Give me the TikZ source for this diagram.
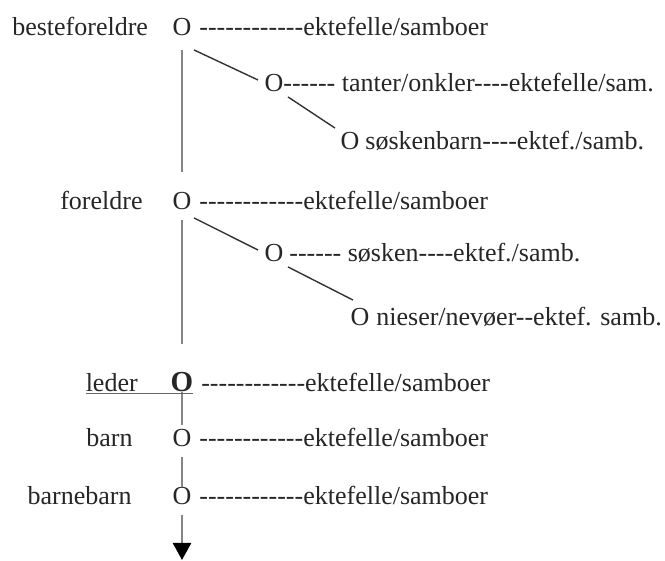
\documentclass[tikz,border=0pt]{standalone}
\usepackage{fontspec}
\setmainfont{Liberation Serif}
\usepackage{tikz}
\usetikzlibrary{positioning}
\usetikzlibrary{arrows.meta}
\newcommand{\strek}[1]{\foreach \n in {1,...,#1}{-{}}}
\tikzstyle{person}=[inner sep=0pt, outer sep=0pt]
\tikzstyle{rel}=[inner sep=0pt, outer sep=0pt]
\tikzstyle{stem}=[draw=black!48, line width=1.25pt]
\tikzstyle{gren}=[draw=black!80, line width=0.7pt]
\tikzstyle{arrow}=[-{Triangle[width=9pt, length=8.5pt, color=black]}]

\begin{document}
\begin{tikzpicture}[x=0.5pt, y=-0.5pt, every node/.style={font=\fontsize{13pt}{15pt}\selectfont, text=black!85}]
    \useasboundingbox (0,0) rectangle (665,561);

    % hovedlinja
    \node [person] (bf) at (182,27) {O};
    \node [person] (f) at (182,201) {O};
    \node [person, font=\fontsize{14.5pt}{16pt}\selectfont\bfseries] (leder) at (182,382) {O};
    \node [person] (barn) at (182,438) {O};
    \node [person] (bb) at (182,496) {O};
    \coordinate (slutt) at (182,560);

    \node [rel, base left=12.3pt of bf] (bf-lbl) {besteforeldre};
    \node [rel, base left=15pt of f] (f-lbl) {foreldre};
    \node [rel, base left=16.5pt of leder] (leder-lbl) {leder};
    \node [rel, base left=20pt of barn] (barn-lbl) {barn};
    \node [rel, base left=20.5pt of bb] (bb-lbl) {barnebarn};

    \foreach \p in {bf,f,leder,barn,bb}
    \node [rel, base right=4pt of \p] (\p-ekt) {\strek{12}ektefelle/samboer};

    % sidegrener
    \node [person] (tanter) at (274,83) {O};
    \node [rel, base right=0pt of tanter] (tanter-ekt) {\strek{6} tanter/onkler\strek{4}ektefelle/sam.};
    \node [person] (skb) at (350,141) {O};
    \node [rel, base right=3pt of skb] (skb-ekt) {søskenbarn\strek{4}ektef./samb.};

    \node [person] (sosken) at (274,253) {O};
    \node [rel, base right=3pt of sosken] (sosken-ekt) {\strek{6} søsken\strek{4}ektef./samb.};
    \node [person] (nieser) at (360,317) {O};
    \node [rel, base right=3.5pt of nieser] (nieser-ekt) {nieser/nevøer\strek{2}ektef. samb.};

    \draw [stem, shorten <=7.1pt, shorten >=10pt] (bf) -- (f);
    \draw [stem, shorten <=5pt, shorten >=14pt] (f) -- (leder);
    \draw [stem, shorten >=2pt] (leder) -- (barn);
    \draw [stem, shorten <=5pt] (barn) -- (bb);
    \draw [stem, arrow, shorten <=5pt] (bb) -- (slutt);

    \draw [draw=black!60, line width=0.8pt] ([yshift=-1pt]leder-lbl.base west) -- ([yshift=-1pt]leder.base east);

    \draw [gren] ([shift={(1.3pt,-7.1pt)}]bf.south east) -- ([shift={(-3.3pt,1.5pt)}]tanter.west);
    \draw [gren] ([shift={(2.3pt,-2.6pt)}]tanter.south east) -- ([shift={(-2.8pt,2.1pt)}]skb.north west);
    \draw [gren] ([shift={(1.3pt,-4.1pt)}]f.south east) -- ([shift={(-3.3pt,1.5pt)}]sosken.west);
    \draw [gren] ([shift={(2.3pt,-2.6pt)}]sosken.south east) -- ([shift={(1.2pt,4.1pt)}]nieser.north west);
  \end{tikzpicture}
\end{document}
